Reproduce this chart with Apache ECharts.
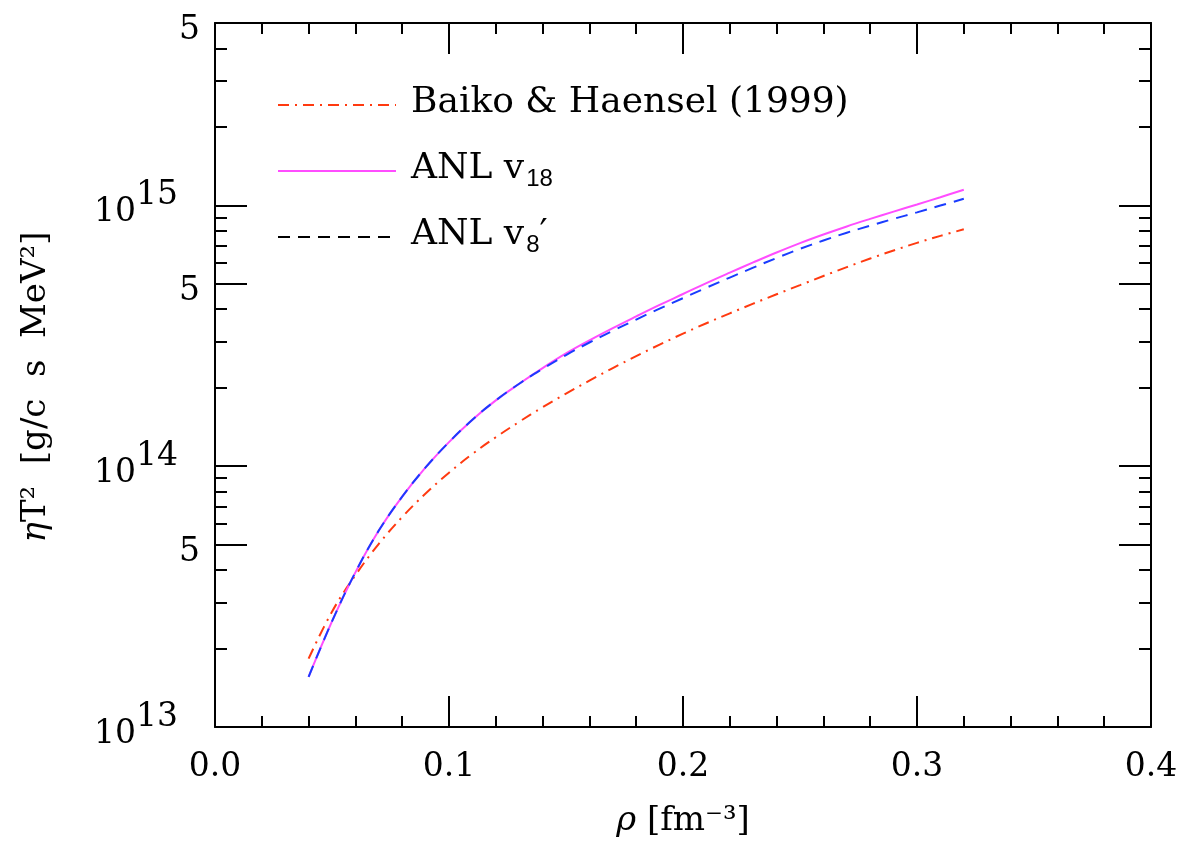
<!DOCTYPE html>
<html>
<head>
<meta charset="utf-8">
<script src="https://cdn.jsdelivr.net/npm/echarts@6/dist/echarts.min.js"></script>
<style>
	html, body { margin: 0; padding: 0; background: #fff; }
	#chart { width: 1185px; height: 841px; }
</style>
</head>
<body>
<div id="chart"></div>
<script>
	// density rho [fm^-3]
	const rho = [0.04, 0.05, 0.06, 0.07, 0.08, 0.09, 0.10, 0.11, 0.12, 0.13, 0.14, 0.15, 0.16, 0.17, 0.18,
		0.19, 0.20, 0.21, 0.22, 0.23, 0.24, 0.25, 0.26, 0.27, 0.28, 0.29, 0.30, 0.31, 0.32];

	// eta*T^2 [g/c s MeV^2]
	const baikoHaensel = [1.828e13, 2.767e13, 3.819e13, 5.035e13, 6.383e13, 7.852e13, 9.441e13, 1.114e14,
		1.291e14, 1.479e14, 1.683e14, 1.897e14, 2.128e14, 2.377e14, 2.642e14, 2.924e14, 3.221e14, 3.532e14,
		3.855e14, 4.198e14, 4.560e14, 4.943e14, 5.358e14, 5.794e14, 6.252e14, 6.714e14, 7.178e14, 7.638e14, 8.091e14];
	const anlV18 = [1.556e13, 2.541e13, 3.917e13, 5.662e13, 7.638e13, 9.886e13, 1.236e14, 1.507e14,
		1.787e14, 2.070e14, 2.377e14, 2.704e14, 3.034e14, 3.381e14, 3.750e14, 4.150e14, 4.571e14, 5.035e14,
		5.521e14, 6.040e14, 6.592e14, 7.161e14, 7.727e14, 8.299e14, 8.872e14, 9.462e14, 1.007e15, 1.074e15, 1.148e15];
	const anlV8p = [1.556e13, 2.541e13, 3.917e13, 5.662e13, 7.638e13, 9.886e13, 1.236e14, 1.507e14,
		1.787e14, 2.070e14, 2.361e14, 2.667e14, 2.979e14, 3.304e14, 3.648e14, 4.018e14, 4.406e14, 4.831e14,
		5.285e14, 5.768e14, 6.281e14, 6.808e14, 7.328e14, 7.852e14, 8.356e14, 8.872e14, 9.397e14, 9.977e14, 1.059e15];

	// y ticks (real values), labelled and minor
	const yMajorTicks = [1e13, 5e13, 1e14, 5e14, 1e15, 5e15];
	const yMinorTicks = [2e13, 3e13, 4e13, 6e13, 7e13, 8e13, 9e13, 2e14, 3e14, 4e14, 6e14, 7e14, 8e14, 9e14,
		2e15, 3e15, 4e15];
	const xTicks = [0.0, 0.1, 0.2, 0.3, 0.4];

	const FONT = 'DejaVu Serif';
	const yMin = Math.log10(yMajorTicks[0]);
	const yMax = Math.log10(yMajorTicks[yMajorTicks.length - 1]);
	const lg = (arr) => arr.map(v => Math.log10(v));

	const legendLabels = {
		'Baiko & Haensel (1999)': '{m|Baiko & Haensel (1999)}',
		'ANL v18': '{m|ANL v}{sub|18}',
		"ANL v8'": '{m|ANL v}{sub|8}{m|\u2032}'
	};

	const myChart = echarts.init(document.getElementById('chart'));

	const xBase = {
		type: 'value',
		min: xTicks[0],
		max: xTicks[xTicks.length - 1],
		interval: 0.1,
		axisLine: { onZero: false, lineStyle: { color: '#000', width: 2 } },
		axisTick: { inside: true, length: 31, lineStyle: { color: '#000', width: 2 } },
		minorTick: { show: true, splitNumber: 5, length: 11, lineStyle: { color: '#000', width: 2 } },
		splitLine: { show: false }
	};

	const yTickAxis = (position, values, len, withLabels) => ({
		type: 'value',
		position: position,
		min: yMin,
		max: yMax,
		axisLine: { show: withLabels, onZero: false, lineStyle: { color: '#000', width: 2 } },
		axisTick: {
			inside: true,
			length: len,
			customValues: lg(values),
			lineStyle: { color: '#000', width: 2 }
		},
		axisLabel: withLabels && position === 'left' ? {
			customValues: lg(yMajorTicks),
			margin: 15,
			padding: [14, 0, 0, 0],
			formatter: function(val) {
				const n = Math.round(val);
				if (Math.abs(val - n) < 1e-6) {
					return '{b|10}{s|' + n + '}';
				}
				return '{f|5}';
			},
			rich: {
				b: { fontFamily: FONT, fontSize: 33, color: '#000', lineHeight: 34, verticalAlign: 'bottom' },
				s: { fontFamily: FONT, fontSize: 33, color: '#000', lineHeight: 34, verticalAlign: 'bottom', padding: [0, 22, 17, 0] },
				f: { fontFamily: FONT, fontSize: 33, color: '#000', lineHeight: 34, verticalAlign: 'bottom', padding: [17, 0, 0, 0] }
			}
		} : { show: false },
		splitLine: { show: false }
	});

	const option = {
		animation: false,
		backgroundColor: '#fff',
		grid: { left: 215, right: 34, top: 23, bottom: 114, containLabel: false, outerBoundsMode: 'none' },
		legend: {
			orient: 'vertical',
			left: 272,
			top: 80,
			itemWidth: 118,
			itemHeight: 14,
			itemGap: 26,
			selectedMode: false,
			itemStyle: { opacity: 0 },
			textStyle: {
				color: '#000',
				padding: [0, 0, 0, 10],
				rich: {
					m: { fontFamily: FONT, fontSize: 36, color: '#000', lineHeight: 40, verticalAlign: 'bottom', padding: [0, 0, 4, 0] },
					sub: { fontFamily: 'Liberation Sans', fontSize: 24, color: '#000', lineHeight: 22, verticalAlign: 'bottom', padding: [0, 0, 0, 2] }
				}
			},
			formatter: name => legendLabels[name],
			data: [
				{ name: 'Baiko & Haensel (1999)' },
				{ name: 'ANL v18' },
				{ name: "ANL v8'", lineStyle: { color: '#000' } }
			]
		},
		xAxis: [
			Object.assign({}, xBase, {
				position: 'bottom',
				axisLabel: {
					margin: 24,
					fontFamily: FONT,
					fontSize: 33,
					color: '#000',
					formatter: v => v.toFixed(1)
				},
				name: '{i|\u03c1} [fm\u207b\u00b3]',
				nameLocation: 'middle',
				nameGap: 77,
				nameTextStyle: {
					fontFamily: FONT, fontSize: 34, color: '#000',
					rich: { i: { fontFamily: FONT, fontSize: 34, fontStyle: 'italic', color: '#000' } }
				}
			}),
			Object.assign({}, xBase, {
				position: 'top',
				axisLabel: { show: false }
			})
		],
		yAxis: [
			Object.assign(yTickAxis('left', yMajorTicks, 32, true), {
				name: '{i|\u03b7}T\u00b2  [g/c  s  MeV\u00b2]',
				nameLocation: 'middle',
				nameRotate: 90,
				nameGap: 162,
				nameTextStyle: {
					fontFamily: FONT, fontSize: 34, color: '#000',
					padding: [0, 24, 0, 0],
					rich: { i: { fontFamily: FONT, fontSize: 34, fontStyle: 'italic', color: '#000' } }
				}
			}),
			yTickAxis('left', yMinorTicks, 12, false),
			yTickAxis('right', yMajorTicks, 32, true),
			yTickAxis('right', yMinorTicks, 12, false)
		],
		series: [
			{
				name: 'Baiko & Haensel (1999)',
				type: 'line',
				symbol: 'none',
				smooth: 0.4,
				data: rho.map((r, i) => [r, Math.log10(baikoHaensel[i])]),
				lineStyle: { color: '#ff3a10', width: 2, type: [11, 6, 2, 6] },
				itemStyle: { color: '#ff3a10' }
			},
			{
				name: 'ANL v18',
				type: 'line',
				symbol: 'none',
				smooth: 0.4,
				data: rho.map((r, i) => [r, Math.log10(anlV18[i])]),
				lineStyle: { color: '#ff4dff', width: 2, type: 'solid' },
				itemStyle: { color: '#ff4dff' }
			},
			{
				name: "ANL v8'",
				type: 'line',
				symbol: 'none',
				smooth: 0.4,
				data: rho.map((r, i) => [r, Math.log10(anlV8p[i])]),
				lineStyle: { color: '#1a3cff', width: 2, type: [12, 8] },
				itemStyle: { color: '#1a3cff' }
			}
		]
	};

	myChart.setOption(option);
</script>
</body>
</html>
